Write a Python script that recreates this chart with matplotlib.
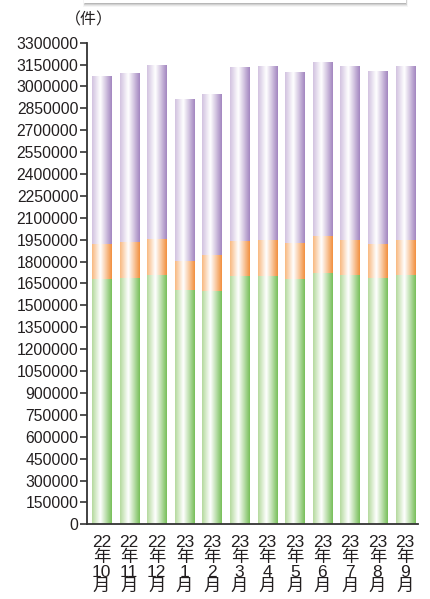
import numpy as np
import matplotlib
matplotlib.use("Agg")
import matplotlib.pyplot as plt
from matplotlib.colors import LinearSegmentedColormap
from matplotlib.patches import Rectangle

plt.rcParams['font.family'] = ['Liberation Sans', 'Noto Sans CJK JP']

months = ["22\n年\n10\n月", "22\n年\n11\n月", "22\n年\n12\n月", "23\n年\n1\n月",
          "23\n年\n2\n月", "23\n年\n3\n月", "23\n年\n4\n月", "23\n年\n5\n月",
          "23\n年\n6\n月", "23\n年\n7\n月", "23\n年\n8\n月", "23\n年\n9\n月"]
# cumulative levels
green = [1680000, 1689000, 1708000, 1605000, 1600000, 1703000,
         1703000, 1682000, 1721000, 1708000, 1689000, 1708000]
orange_top = [1922000, 1936000, 1954000, 1803000, 1845000, 1940000,
              1949000, 1927000, 1977000, 1949000, 1922000, 1949000]
total = [3070000, 3093000, 3146000, 2913000, 2947000, 3132000,
         3139000, 3098000, 3166000, 3139000, 3105000, 3139000]

orange = [o - g for o, g in zip(orange_top, green)]
purple = [t - o for t, o in zip(total, orange_top)]

def grad(light, dark):
    return LinearSegmentedColormap.from_list(
        "g", [(0, light), (0.42, "#ffffff"), (1, dark)])

cmaps = [grad("#b5da9e", "#78bf5a"), grad("#f8b981", "#f2903f"),
         grad("#d2c3e0", "#a386c0")]

fig = plt.figure(figsize=(4.31, 5.99), dpi=100)
ax = fig.add_axes([87.3 / 431, 1 - 524.3 / 599, (418 - 87.3) / 431, (524.3 - 42.7) / 599])

x = np.arange(len(months))
w = 0.69
layers = [(green, [0] * 12), (orange, green), (purple, orange_top)]
gimg = np.linspace(0, 1, 64).reshape(1, -1)
for (vals, base), cm in zip(layers, cmaps):
    bars = ax.bar(x, vals, w, bottom=base, color="none", edgecolor="none")
    for b in bars:
        x0, y0 = b.get_x(), b.get_y()
        im = ax.imshow(gimg, cmap=cm, aspect="auto", interpolation="bilinear",
                       extent=[x0, x0 + b.get_width(), y0, y0 + b.get_height()],
                       zorder=2)
        im.set_clip_path(b)

ax.set_xlim(-0.52, 11.47)
ax.set_ylim(0, 3300000)
ax.set_yticks(np.arange(0, 3300001, 150000))
ax.set_yticklabels([str(v) for v in range(0, 3300001, 150000)], fontsize=11.3, color="#231f20")
ax.set_xticks(x)
ax.set_xticklabels(months, fontsize=12.5, color="#231f20", linespacing=0.95)
ax.tick_params(axis="x", length=0, pad=8)
ax.tick_params(axis="y", length=5, width=1.2, color="#333333", pad=1.5)
for s in ["top", "right"]:
    ax.spines[s].set_visible(False)
for s in ["left", "bottom"]:
    ax.spines[s].set_color("#333333")
    ax.spines[s].set_linewidth(1.3)

fig.text(65 / 431, 1 - 20 / 599, "（件）", fontsize=11.5, color="#231f20",
         ha="left", va="center")

# shadowed box clipped at the top of the picture
for i, a in enumerate([0.04, 0.06, 0.09, 0.12, 0.16]):
    fig.patches.append(Rectangle((83 / 431 + i * 0.0015, (599 - 7 + i) / 599),
                                 (408 - 83) / 431 - i * 0.003, 0.05,
                                 transform=fig.transFigure, color="black",
                                 alpha=a, lw=0))
fig.patches.append(Rectangle((84 / 431, (599 - 3) / 599), (406 - 84) / 431, 0.05,
                             transform=fig.transFigure, color="white", lw=0))

fig.savefig("out.png", dpi=100)
